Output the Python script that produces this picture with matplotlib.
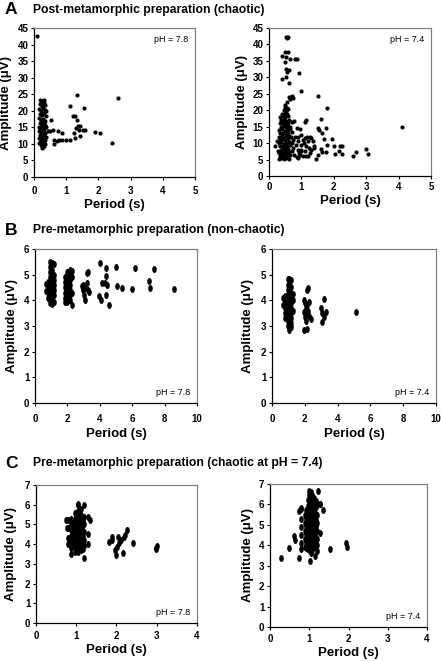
import matplotlib
matplotlib.use('Agg')
import matplotlib.pyplot as plt
import numpy as np
from matplotlib.path import Path
from matplotlib.transforms import Affine2D

plt.rcParams['font.family'] = ['Liberation Sans', 'DejaVu Sans']
plt.rcParams['font.weight'] = 'bold'

W, H = 441, 661

# A: post-metamorphic, pH 7.8
a78_period = [0.08,
              0.20, 0.26, 0.32, 0.18, 0.24, 0.30, 0.35, 0.17, 0.22, 0.28, 0.33, 0.38, 0.19, 0.25, 0.31, 0.36,
              0.16, 0.21, 0.27, 0.33, 0.18, 0.24, 0.30, 0.35, 0.15, 0.20, 0.26, 0.32, 0.37, 0.17, 0.23, 0.29,
              0.34, 0.19, 0.25, 0.31, 0.36, 0.16, 0.22, 0.28, 0.33, 0.18, 0.24, 0.30, 0.35, 0.15, 0.21, 0.27,
              0.32, 0.26,
              0.54, 0.49, 0.60, 0.45, 0.62, 0.62, 0.72, 0.77, 0.75, 0.87, 0.87, 1.00, 1.13, 1.13, 1.22, 1.26,
              1.24, 1.26, 1.32, 1.34, 1.36, 1.31, 1.42, 1.39, 1.42, 1.55, 1.52, 1.57, 1.90, 2.04, 2.42, 2.62]
a78_amp = [42.7,
           23.2, 23.0, 23.3, 22.0, 21.5, 22.4, 21.8, 20.6, 20.0, 20.8, 20.2, 19.8, 19.0, 18.6, 19.2, 18.4,
           17.8, 17.2, 17.6, 17.0, 16.4, 16.0, 16.6, 15.8, 15.2, 14.8, 15.4, 14.6, 15.0, 14.0, 13.6, 14.2,
           13.4, 12.8, 12.4, 13.0, 12.2, 11.8, 11.4, 11.9, 11.2, 10.6, 10.2, 10.8, 10.0, 10.3, 9.6, 9.2,
           9.5, 8.9,
           17.3, 13.8, 14.3, 14.0, 11.3, 10.0, 10.8, 11.3, 13.8, 11.3, 13.3, 11.3, 11.3, 21.5, 18.3, 18.3,
           13.3, 11.8, 24.9, 17.3, 15.3, 14.8, 15.5, 14.3, 12.3, 20.7, 14.3, 14.3, 13.6, 13.3, 10.3, 24.0]

# A: post-metamorphic, pH 7.4
a74_period = [0.50, 0.55, 0.45, 0.52, 0.60, 0.40, 0.48, 0.56, 0.35, 0.44, 0.50, 0.58, 0.38, 0.46, 0.54, 0.62,
              0.33, 0.42, 0.50, 0.58, 0.36, 0.44, 0.52, 0.60, 0.66, 0.32, 0.40, 0.48, 0.56, 0.64, 0.35, 0.43,
              0.51, 0.59, 0.31, 0.39, 0.47, 0.55, 0.63, 0.34, 0.42, 0.50, 0.58, 0.30, 0.38, 0.46, 0.54, 0.62,
              0.33, 0.41, 0.49, 0.57, 0.65, 0.36, 0.44, 0.52, 0.60, 0.31, 0.39, 0.47, 0.55, 0.63, 0.34, 0.42,
              0.50, 0.58, 0.66, 0.30, 0.38, 0.46, 0.54, 0.62, 0.40, 0.48, 0.56, 0.44, 0.52, 0.37, 0.45, 0.53,
              0.70, 0.78, 0.72, 0.80, 0.85, 0.90, 0.95, 0.70, 0.75, 0.82, 0.88, 0.92, 0.70, 0.78, 0.85, 0.95,
              1.00, 1.05, 1.00, 1.08, 1.12, 1.15, 1.20, 1.25, 1.30, 1.18, 1.22, 1.10, 1.05, 1.15, 1.20, 1.30,
              1.35, 1.40, 1.10, 1.15, 0.98, 1.28, 0.67, 0.75, 0.88, 1.00, 0.90,
              1.40, 1.45, 1.50, 1.50, 1.55, 1.60, 1.62, 1.65, 1.65, 1.70, 1.75, 1.75, 1.80, 1.80, 1.95, 2.00,
              2.05, 2.15, 2.20, 2.25, 2.25, 2.60, 2.70, 3.00, 3.05, 4.10, 1.52, 1.00, 0.20, 0.25, 0.28,
              0.54, 0.59, 0.56, 0.49, 0.59, 0.41, 0.52, 0.64, 0.80, 0.87, 0.49, 0.54, 0.62, 0.56, 0.51, 0.41,
              0.92, 0.62, 0.62, 0.69, 0.74, 0.66, 0.72, 0.55, 0.50]
a74_amp = [21.0, 20.6, 20.0, 19.8, 20.3, 19.0, 19.2, 18.8, 18.0, 18.3, 17.8, 18.1, 17.0, 17.2, 16.8, 17.1,
           16.0, 16.3, 15.8, 16.1, 15.0, 15.2, 14.8, 15.1, 14.9, 14.0, 14.2, 13.8, 14.1, 14.3, 13.0, 13.2,
           12.8, 13.1, 12.0, 12.2, 11.8, 12.1, 12.3, 11.0, 11.2, 10.8, 11.1, 10.0, 10.2, 9.8, 10.1, 10.3,
           9.0, 9.2, 8.8, 9.1, 9.3, 8.0, 8.2, 7.8, 8.1, 7.0, 7.2, 6.8, 7.1, 7.3, 6.0, 6.2,
           5.8, 6.1, 6.3, 5.3, 5.4, 5.2, 5.4, 5.3, 16.5, 15.5, 13.5, 11.5, 9.5, 6.5, 7.5, 8.5,
           16.5, 16.8, 13.5, 12.0, 14.5, 10.5, 14.3, 10.0, 8.5, 9.5, 8.0, 7.0, 7.5, 6.5, 5.8, 6.5,
           9.5, 11.0, 12.5, 10.0, 11.5, 9.0, 10.5, 12.0, 11.5, 12.0, 8.5, 7.5, 6.0, 6.0, 6.2, 8.0,
           10.5, 9.0, 16.5, 17.0, 8.0, 7.0, 12.0, 11.0, 11.8, 7.5, 5.5,
           8.5, 5.3, 6.5, 14.7, 14.0, 8.3, 17.4, 13.0, 7.3, 11.3, 14.5, 7.3, 9.3, 20.8, 11.2, 9.0,
           6.8, 7.5, 9.0, 9.0, 6.8, 6.0, 7.3, 8.3, 6.8, 14.8, 24.2, 25.8, 9.0, 10.5, 7.5,
           42.3, 42.3, 42.0, 37.7, 37.7, 36.4, 36.2, 35.7, 35.7, 35.7, 34.7, 32.6, 32.1, 31.6, 30.1, 29.6,
           31.3, 28.3, 24.0, 24.0, 23.8, 23.4, 24.2, 22.5, 21.5]

# B: pre-metamorphic (non-chaotic), pH 7.8
b78_period = [0.80, 0.80, 0.80, 0.80, 0.78, 0.70, 0.70,
              0.95, 0.95, 0.95, 0.95, 0.95, 0.95, 0.95, 0.95, 0.95,
              1.05, 1.05, 1.05, 1.05, 1.05, 1.05, 1.05, 1.05, 1.05,
              1.15, 1.15, 1.15, 1.15, 1.15, 1.15, 1.15,
              1.85, 1.85, 1.85, 1.85, 1.85, 1.85, 2.00, 2.00, 2.00, 2.00, 2.00, 2.00, 2.00,
              2.15, 2.15, 2.15, 2.15, 2.15, 2.15, 2.15, 2.30, 2.30, 2.30, 2.30,
              2.99, 3.09, 3.24, 3.30, 3.20, 3.30, 3.36, 3.03, 3.09, 2.95, 2.89,
              4.02, 4.39, 4.39, 4.33, 4.12, 4.47, 3.98, 4.08, 4.39, 4.54, 5.01, 5.05, 5.36, 5.98, 6.19,
              7.01, 7.07, 7.32, 8.60]
b78_amp = [4.70, 4.50, 4.30, 4.10, 4.60, 4.65, 4.35,
           5.50, 5.30, 5.10, 4.90, 4.70, 4.50, 4.30, 4.10, 3.90,
           5.45, 5.20, 5.00, 4.80, 4.60, 4.40, 4.20, 4.00, 3.85,
           5.40, 5.00, 4.80, 4.60, 4.40, 4.20, 3.95,
           4.90, 4.70, 4.50, 4.30, 4.10, 3.95, 5.10, 4.95, 4.75, 4.55, 4.35, 4.15, 3.95,
           5.20, 5.00, 4.80, 4.60, 4.40, 4.20, 4.00, 5.15, 4.90, 4.30, 3.80,
           4.60, 4.47, 5.06, 5.12, 4.67, 4.41, 4.34, 4.21, 4.02, 4.41, 4.54,
           5.47, 5.27, 4.94, 4.67, 4.67, 4.60, 4.15, 4.02, 4.21, 3.82, 5.28, 4.54, 4.47, 4.43, 5.25,
           4.76, 4.47, 5.22, 4.43]

# B: pre-metamorphic (non-chaotic), pH 7.4
b74_period = [0.80, 0.80, 0.80, 0.80, 0.80, 0.70, 0.70,
              0.95, 0.95, 0.95, 0.95, 0.95, 0.95, 0.95, 0.95, 0.95, 0.95,
              1.05, 1.05, 1.05, 1.05, 1.05, 1.05, 1.05, 1.05, 1.05, 1.05, 1.05,
              1.15, 1.15, 1.15, 1.15, 1.15, 1.15, 1.15, 1.15, 1.15, 1.15, 1.30, 1.30, 1.30,
              2.20, 2.16, 1.96, 2.00, 2.27, 2.37, 1.96, 2.12, 2.05, 2.15, 1.95, 2.10, 2.20, 2.25, 2.00, 2.10, 2.15,
              3.15, 2.99, 3.03, 3.05, 3.20, 3.32, 5.15]
b74_amp = [4.15, 3.90, 3.70, 3.50, 3.30, 4.10, 3.80,
           4.85, 4.60, 4.40, 4.20, 4.00, 3.80, 3.60, 3.40, 3.20, 3.00,
           4.85, 4.65, 4.45, 4.25, 4.05, 3.85, 3.65, 3.45, 3.25, 3.05, 2.85,
           4.80, 4.50, 4.30, 4.10, 3.90, 3.70, 3.50, 3.30, 3.10, 2.95, 4.25, 4.00, 3.60,
           4.47, 4.40, 4.00, 3.89, 3.95, 3.29, 2.84, 2.90, 3.60, 3.50, 3.55, 3.70, 3.60, 3.40, 3.35, 3.20, 3.80,
           4.04, 3.69, 3.49, 3.17, 3.36, 3.56, 3.56]

# C: pre-metamorphic (chaotic at pH 7.4), pH 7.8
c78_period = [0.80, 0.80, 0.80, 0.80,
              0.88, 0.88, 0.88, 0.88, 0.88, 0.88, 0.88,
              0.96, 0.96, 0.96, 0.96, 0.96, 0.96, 0.96, 0.96,
              1.04, 1.04, 1.04, 1.04, 1.04, 1.04, 1.04, 1.04, 1.04,
              1.12, 1.12, 1.12, 1.12, 1.12, 1.12, 1.12, 1.12,
              1.20, 1.20, 1.20, 1.20, 1.20, 1.20, 1.20, 1.28, 1.28, 1.28, 1.34,
              1.00, 1.00, 1.00, 1.00, 1.00, 1.00, 1.00,
              1.08, 1.08, 1.08, 1.08, 1.08, 1.08, 1.08,
              1.16, 1.16, 1.16, 1.16, 1.16, 1.16,
              0.92, 0.92, 0.92, 0.92, 0.92,
              0.74, 0.76, 1.05,
              1.88, 1.90, 1.96, 1.98, 2.04, 2.10, 2.15, 2.18, 2.21, 2.26, 2.41, 2.02, 1.82, 2.06,
              2.99, 3.00, 2.98]
c78_amp = [5.20, 4.80, 4.30, 4.00,
           5.30, 5.00, 4.70, 4.40, 4.10, 3.80, 3.50,
           5.60, 5.30, 5.00, 4.70, 4.40, 4.10, 3.80, 3.60,
           6.00, 5.70, 5.40, 5.10, 4.80, 4.50, 4.20, 3.90, 3.60,
           5.80, 5.50, 5.20, 4.90, 4.60, 4.30, 4.00, 3.70,
           6.00, 5.40, 5.00, 4.60, 4.20, 3.90, 3.30, 5.40, 4.50, 4.00, 5.20,
           5.55, 5.25, 4.95, 4.65, 4.35, 4.05, 3.75,
           5.55, 5.25, 4.95, 4.65, 4.35, 4.05, 3.75,
           5.25, 4.95, 4.65, 4.35, 4.05, 3.75,
           5.15, 4.85, 4.55, 4.25, 3.95,
           5.23, 4.80, 6.04,
           4.38, 4.22, 3.71, 3.46, 4.38, 4.22, 3.54, 4.38, 4.47, 4.72, 4.05, 3.88, 4.13, 4.05,
           3.79, 3.91, 3.74]

# C: pre-metamorphic (chaotic at pH 7.4), pH 7.4
c74_period = [0.80, 0.80, 0.80, 0.80, 0.80, 0.80,
              0.88, 0.88, 0.88, 0.88, 0.88,
              0.96, 0.96, 0.96, 0.96, 0.96, 0.96, 0.96, 0.96, 0.96,
              1.04, 1.04, 1.04, 1.04, 1.04, 1.04, 1.04, 1.04, 1.04, 1.04, 1.04,
              1.12, 1.12, 1.12, 1.12, 1.12, 1.12, 1.12, 1.12, 1.12,
              1.20, 1.20, 1.20, 1.20, 1.20, 1.20, 1.27, 1.27,
              1.00, 1.00, 1.00, 1.00, 1.00, 1.00, 1.00, 1.00, 1.00, 1.00,
              1.08, 1.08, 1.08, 1.08, 1.08, 1.08, 1.08, 1.08, 1.08, 1.08,
              1.16, 1.16, 1.16, 1.16, 1.16, 1.16, 1.16, 1.16,
              0.92, 0.92, 0.92, 0.92, 0.92, 0.92,
              0.27, 0.49, 0.61, 0.64, 0.74, 1.03, 1.14, 1.21, 1.53, 1.93, 1.97,
              1.00, 1.23, 1.34, 1.27, 0.74, 0.79]
c74_amp = [5.80, 5.30, 4.90, 4.50, 4.10, 3.80,
           5.50, 5.10, 4.70, 4.30, 3.90,
           6.20, 5.90, 5.60, 5.30, 5.00, 4.70, 4.40, 4.10, 3.80,
           6.60, 6.30, 6.00, 5.70, 5.40, 5.10, 4.80, 4.50, 4.20, 3.90, 3.60,
           6.30, 6.00, 5.70, 5.40, 5.10, 4.80, 4.50, 4.20, 3.90,
           6.00, 5.50, 5.10, 4.70, 4.30, 4.00, 6.00, 4.60,
           6.45, 6.15, 5.85, 5.55, 5.25, 4.95, 4.65, 4.35, 4.05, 3.75,
           6.45, 6.15, 5.85, 5.55, 5.25, 4.95, 4.65, 4.35, 4.05, 3.75,
           6.15, 5.85, 5.55, 5.25, 4.95, 4.65, 4.35, 4.05,
           5.75, 5.35, 4.95, 4.55, 4.15, 3.85,
           3.38, 3.87, 4.44, 4.27, 3.38, 3.25, 3.46, 3.70, 3.82, 4.11, 3.92,
           6.64, 6.64, 5.74, 6.04, 5.66, 5.82]

panel_titles = ['Post-metamorphic preparation (chaotic)',
                'Pre-metamorphic preparation (non-chaotic)',
                'Pre-metamorphic preparation (chaotic at pH = 7.4)']
panel_letters = ['A', 'B', 'C']


def style_axes(ax, xmax, xstep, ymax, ystep, xpad):
    ax.set_xlim(0, xmax)
    ax.set_ylim(0, ymax)
    ax.set_xticks(np.arange(0, xmax + 0.01, xstep))
    ax.set_yticks(np.arange(0, ymax + 0.01, ystep))
    for s in ['top', 'right']:
        ax.spines[s].set_color('#808080')
    for s in ['left', 'bottom']:
        ax.spines[s].set_color('black')
    for s in ax.spines.values():
        s.set_linewidth(0.9)
    ax.tick_params(direction='out', length=2.5, width=0.8, labelsize=7)
    ax.tick_params(axis='x', pad=xpad)
    ax.tick_params(axis='y', pad=1.5)


ellipse = Path.unit_circle().transformed(Affine2D().scale(0.66, 1.0))

fig = plt.figure(figsize=(W / 100, H / 100), dpi=100)

# pixel boxes (left, top, right, bottom), x tick pad, xlabel centre y, ylabel centre x
panels = [
    ((34, 28, 195, 177), 3.7, 205, 6, a78_period, a78_amp, 'pH = 7.8', 'top', 5, 1, 45, 5, 'o', 9),
    ((269, 28, 431, 176), 2.0, 201, 242, a74_period, a74_amp, 'pH = 7.4', 'top', 5, 1, 45, 5, 'o', 9),
    ((35, 249, 197, 403), 5.2, 434, 12, b78_period, b78_amp, 'pH = 7.8', 'bottom', 10, 2, 6, 1, ellipse, 25),
    ((272, 249, 436, 403), 5.2, 434, 248, b74_period, b74_amp, 'pH = 7.4', 'bottom', 10, 2, 6, 1, ellipse, 25),
    ((36, 485, 197, 623), 3.0, 650, 11, c78_period, c78_amp, 'pH = 7.8', 'bottom', 4, 1, 7, 1, ellipse, 25),
    ((270, 484, 427, 627), 2.3, 653, 248, c74_period, c74_amp, 'pH = 7.4', 'bottom', 4, 1, 7, 1, ellipse, 25),
]

for (l, t, r, b), xpad, xl_y, yl_x, px, py, ph, where, xmax, xstep, ymax, ystep, mk, ms in panels:
    ax = fig.add_axes([l / W, 1 - b / H, (r - l) / W, (b - t) / H])
    ax.scatter(px, py, marker=mk, s=ms, c='black', linewidths=0, zorder=3)
    style_axes(ax, xmax, xstep, ymax, ystep, xpad)
    ax.set_xlabel('Period (s)', fontsize=9.5, fontweight='bold', va='center')
    ax.set_ylabel('Amplitude (μV)', fontsize=9.5, fontweight='bold', va='center')
    ax.xaxis.set_label_coords(0.5, (b - xl_y) / (b - t))
    ax.yaxis.set_label_coords((yl_x - l) / (r - l), 0.5)
    if where == 'top':
        ax.text(0.96, 0.95, ph, transform=ax.transAxes, ha='right', va='top',
                fontsize=6.5, fontweight='normal')
    else:
        ax.text(0.96, 0.04, ph, transform=ax.transAxes, ha='right', va='bottom',
                fontsize=6.5, fontweight='normal')

for letter, title, y in zip(panel_letters, panel_titles, [10, 230, 463]):
    fig.text(5 / W, 1 - y / H, letter, fontsize=12.5, fontweight='bold', va='center')
    fig.text(33 / W, 1 - y / H, title, fontsize=8.7, fontweight='bold', va='center')

plt.savefig('out.png', dpi=100)
